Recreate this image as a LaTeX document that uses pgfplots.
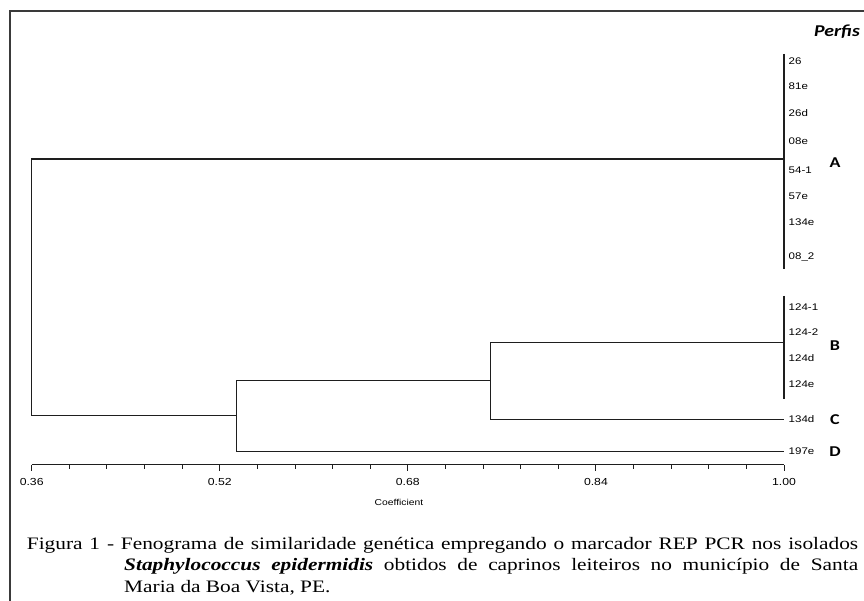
\documentclass[border=0pt]{standalone}
\usepackage{fontspec}
\setmainfont{Liberation Serif}[FakeStretch=1.22]
\newfontfamily\arialf{Liberation Sans}[FakeStretch=1.2]
\newfontfamily\calib{Carlito}[FakeStretch=1.2]
\usepackage{pgfplots}
\usepackage{pgfplotstable}
\pgfplotsset{compat=1.18}

\definecolor{dline}{HTML}{1E1E1E}
\definecolor{frame}{HTML}{3A3A3A}

% leaf labels: coefficient, height (px from bottom), name
\pgfplotstableread{
x    y      label
1.00 539.3  26
1.00 514.3  81e
1.00 488.0  26d
1.00 459.3  08e
1.00 430.3  54-1
1.00 404.3  57e
1.00 378.3  134e
1.00 344.3  08\_2
1.00 294.3  124-1
1.00 268.7  124-2
1.00 243.3  124d
1.00 217.0  124e
1.00 182.0  134d
1.00 150.0  197e
}\leaves

\begin{document}
\begin{tikzpicture}
\begin{axis}[
    scale only axis,
    width=752.3pt, height=454pt,
    xmin=0.36, xmax=1.00,
    ymin=136, ymax=590,
    axis x line=bottom, axis y line=none,
    axis line style={-, dline, line width=1pt},
    xtick={0.36,0.52,0.68,0.84,1.00},
    xticklabels={0.36,0.52,0.68,0.84,1.00},
    minor x tick num=4,
    tick align=outside,
    major tick length=6pt, minor tick length=4pt,
    tick style={dline, line width=0.9pt},
    xticklabel style={font=\arialf\fontsize{10.2}{11}\selectfont, inner sep=0pt,
        yshift=-7pt, text=black},
    clip=false,
]

% cluster A and root
\addplot[dline, line width=1.2pt] coordinates {
    (1.00,442) (0.36,442) (0.36,185.3) (0.5345,185.3)
};
% node joining B+C with D
\addplot[dline, line width=1.2pt] coordinates {
    (0.7506,220.3) (0.5345,220.3) (0.5345,149.3) (1.00,149.3)
};
% node joining B with C
\addplot[dline, line width=1.2pt] coordinates {
    (1.00,258.3) (0.7506,258.3) (0.7506,181.7) (1.00,181.7)
};
% leaf bars
\addplot[dline, line width=1.2pt] coordinates {(1.00,547) (1.00,332)};
\addplot[dline, line width=1.2pt] coordinates {(1.00,305) (1.00,202)};

% leaf names
\addplot[only marks, mark=none, point meta=explicit symbolic,
    nodes near coords,
    every node near coord/.append style={anchor=west, xshift=3.5pt,
        inner sep=1pt, text=black,
        font=\arialf\fontsize{9.6}{11}\selectfont}]
    table[x=x, y=y, meta=label] {\leaves};

\coordinate (O) at (axis cs:0.33303,601);
\coordinate (E) at (axis cs:1.06806,0);
\end{axis}

\begin{scope}[shift={(O)}, x=1pt, y=-1pt]
  \draw[frame, line width=1.4pt] (10,601) -- (10,11) -- (864,11);
  \node[font=\calib\bfseries\itshape\fontsize{16.5}{18}\selectfont] at (837,31.7) {Perfis};
  \begin{scope}[every node/.style={font=\calib\bfseries\fontsize{15}{17}\selectfont}]
    \node at (835,163) {A};
    \node at (835,345.7) {B};
    \node at (835,420) {C};
    \node at (835,451.7) {D};
  \end{scope}
  \node[font=\arialf\fontsize{8.6}{10}\selectfont, text=black] at (399,502.5) {Coefficient};
  \node[anchor=base west, inner sep=0pt] at (26.7,550) {\fontsize{17.5}{21}\selectfont
    \hbox to 831.3pt{Figura 1 - Fenograma de similaridade genética empregando o marcador REP PCR nos isolados}};
  \node[anchor=base west, inner sep=0pt] at (124,571) {\fontsize{17.5}{21}\selectfont
    \hbox to 734pt{\textbf{\textit{Staphylococcus epidermidis}} obtidos de caprinos leiteiros no município de Santa}};
  \node[anchor=base west, inner sep=0pt] at (124,592.3) {\fontsize{17.5}{21}\selectfont
    Maria da Boa Vista, PE.};
\end{scope}

\pgfresetboundingbox
\path[use as bounding box] (O) rectangle (E);
\end{tikzpicture}
\end{document}
